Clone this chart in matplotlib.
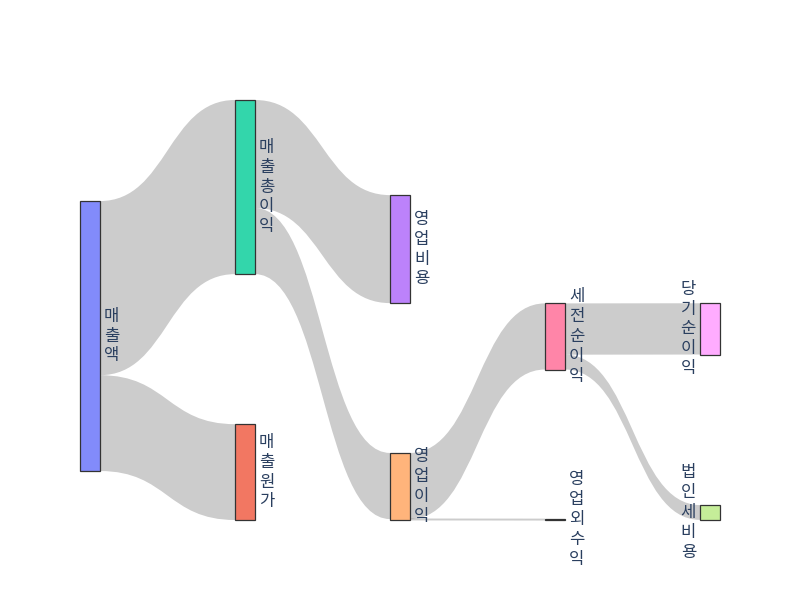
import matplotlib
matplotlib.use("Agg")
import matplotlib.pyplot as plt
from matplotlib.path import Path
from matplotlib.patches import PathPatch, Rectangle
from matplotlib.colors import to_rgb

plt.rcParams['font.family'] = ['Noto Sans CJK KR', 'DejaVu Sans']

# 노드 / 링크 데이터
labels = ['매출액', '매출원가', '매출총이익', '영업비용', '영업이익',
          '영업외수익', '세전순이익', '법인세비용', '당기순이익']
sources = [0, 0, 2, 2, 4, 4, 6, 6]
targets = [2, 1, 3, 4, 6, 5, 8, 7]
values = [64.5, 35.5, 40.0, 24.5, 24.5, 0.3, 19.0, 5.5]

# 배치 (plotly 식 node.x / node.y)
node_col = [0, 1, 1, 2, 2, 3, 3, 4, 4]
node_yfrac = [0.562, 0.886, 0.207, 0.355, 0.920, 1.0, 0.563, 0.982, 0.545]
colorway = ['#636efa', '#EF553B', '#00cc96', '#ab63fa', '#FFA15A',
            '#19d3f3', '#FF6692', '#B6E880', '#FF97FF']

L, R, T, B = 80, 720, 100, 520
thick = 20
ky = 2.7  # px per unit
col_step = (R - L - thick) / 4

n = len(labels)
vin = [0.0] * n
vout = [0.0] * n
for s, t, v in zip(sources, targets, values):
    vout[s] += v
    vin[t] += v
node_val = [max(a, b) for a, b in zip(vin, vout)]

x0s, y0s, hs = [], [], []
for i in range(n):
    h = node_val[i] * ky
    cy = T + node_yfrac[i] * (B - T)
    top = min(max(cy - h / 2, T), B - h)
    x0s.append(L + node_col[i] * col_step)
    y0s.append(top)
    hs.append(h)

fig = plt.figure(figsize=(8, 6), dpi=100)
ax = fig.add_axes([0, 0, 1, 1])
ax.set_xlim(0, 800)
ax.set_ylim(600, 0)
ax.axis('off')

# 링크 정렬
out_off = {i: y0s[i] for i in range(n)}
in_off = {i: y0s[i] for i in range(n)}
order = list(range(len(values)))
ctr = [y0s[i] + hs[i] / 2 for i in range(n)]
src_pos = {}
for k in sorted(order, key=lambda k: (sources[k], ctr[targets[k]])):
    s = sources[k]
    src_pos[k] = out_off[s]
    out_off[s] += values[k] * ky
tgt_pos = {}
for k in sorted(order, key=lambda k: (targets[k], ctr[sources[k]])):
    t = targets[k]
    tgt_pos[k] = in_off[t]
    in_off[t] += values[k] * ky

for k in order:
    s, t = sources[k], targets[k]
    w = values[k] * ky
    xa = x0s[s] + thick
    xb = x0s[t]
    xm = (xa + xb) / 2
    sa, ta = src_pos[k], tgt_pos[k]
    verts = [(xa, sa), (xm, sa), (xm, ta), (xb, ta),
             (xb, ta + w), (xm, ta + w), (xm, sa + w), (xa, sa + w), (xa, sa)]
    codes = [Path.MOVETO, Path.CURVE4, Path.CURVE4, Path.CURVE4,
             Path.LINETO, Path.CURVE4, Path.CURVE4, Path.CURVE4, Path.CLOSEPOLY]
    if w < 1.5:
        ax.plot([xa, xb], [sa + w / 2, ta + w / 2], color='black', alpha=0.2, lw=1.4,
                solid_capstyle='butt')
    else:
        ax.add_patch(PathPatch(Path(verts, codes), facecolor='black', alpha=0.2,
                               edgecolor='none'))

for i in range(n):
    rgb = to_rgb(colorway[i])
    fc = tuple(c * 0.8 + 0.2 for c in rgb)
    ax.add_patch(Rectangle((x0s[i], y0s[i]), thick, hs[i], facecolor=fc,
                           edgecolor='#333333', linewidth=0.9, zorder=3))
    txt = '\n'.join(labels[i])
    cy = y0s[i] + hs[i] / 2
    if node_col[i] == 4:
        ax.text(x0s[i] - 4, cy, txt, ha='right', va='center', fontsize=12,
                color='#2a3f5f', linespacing=1.22)
    else:
        ax.text(x0s[i] + thick + 4, cy, txt, ha='left', va='center', fontsize=12,
                color='#2a3f5f', linespacing=1.22)

fig.savefig('out.png', dpi=100)
